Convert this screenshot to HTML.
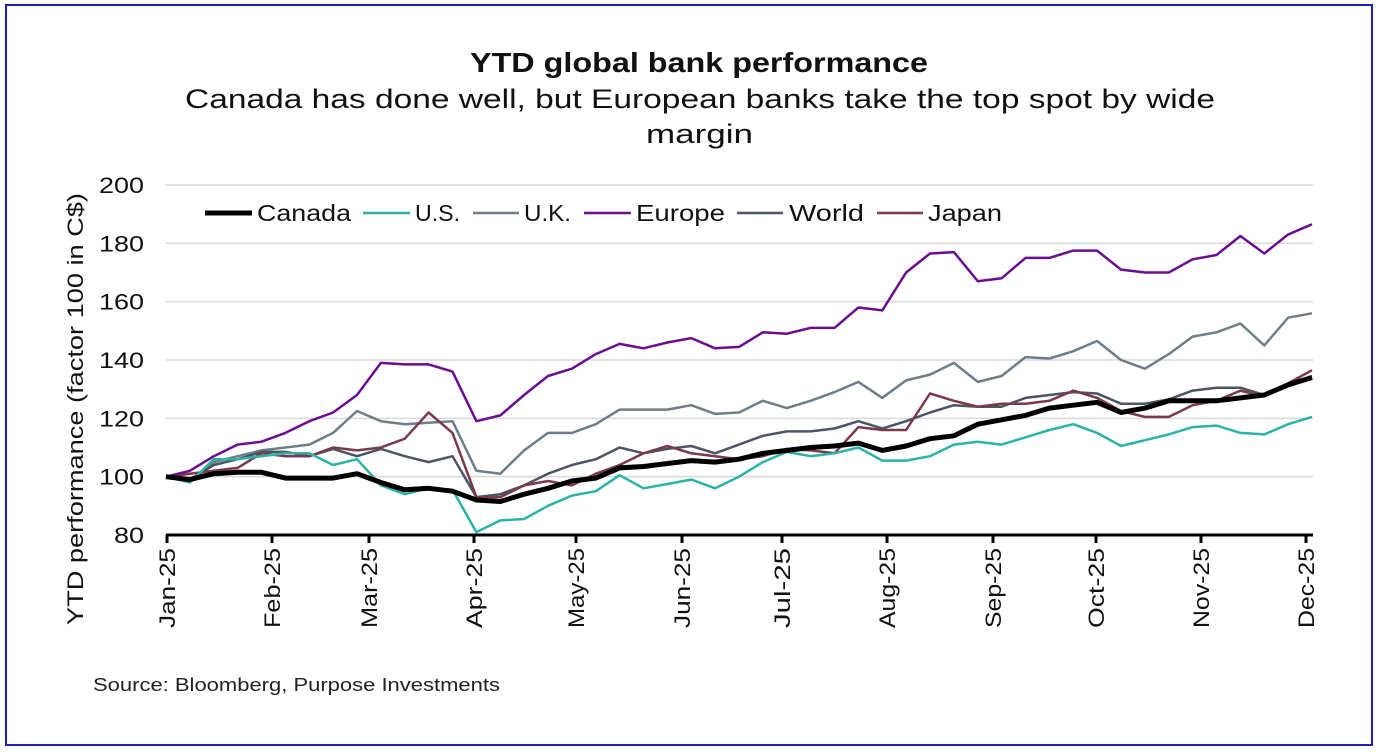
<!DOCTYPE html>
<html><head><meta charset="utf-8"><style>
body{margin:0;background:#fff;}
svg{display:block;font-family:"Liberation Sans",sans-serif;}
</style></head><body>
<svg id="c" width="1378" height="752" viewBox="0 0 1378 752">
<rect x="0" y="0" width="1378" height="752" fill="#fff"/>
<rect x="6" y="5" width="1366" height="740" fill="none" stroke="#1f1fb8" stroke-width="2"/>
<text x="470" y="72" textLength="458" lengthAdjust="spacingAndGlyphs" font-size="28" font-weight="bold" fill="#111">YTD global bank performance</text>
<text x="185" y="108" textLength="1030" lengthAdjust="spacingAndGlyphs" font-size="27" fill="#111">Canada has done well, but European banks take the top spot by wide</text>
<text x="646" y="143" textLength="107" lengthAdjust="spacingAndGlyphs" font-size="27" fill="#111">margin</text>
<g id="grid" stroke="#d9d9d9" stroke-width="1.5"></g>
<g id="ylab" font-size="22" fill="#111" text-anchor="end"></g>
<text transform="translate(83,625) rotate(-90)" textLength="432" lengthAdjust="spacingAndGlyphs" font-size="22" fill="#111">YTD performance (factor 100 in C$)</text>
<g id="series" fill="none" stroke-linejoin="round"></g>
<line x1="166" y1="535" x2="1313" y2="535" stroke="#000" stroke-width="3"/>
<g id="xt" font-size="22" fill="#111"></g>
<g font-size="23" fill="#111">
<line x1="205" y1="213" x2="252" y2="213" stroke="#000" stroke-width="5"/><text x="257" y="221" textLength="94" lengthAdjust="spacingAndGlyphs">Canada</text>
<line x1="363" y1="213" x2="410" y2="213" stroke="#2ab3a6" stroke-width="2.5"/><text x="415" y="221" textLength="45" lengthAdjust="spacingAndGlyphs">U.S.</text>
<line x1="473" y1="213" x2="519" y2="213" stroke="#6e7e88" stroke-width="2.5"/><text x="524" y="221" textLength="47" lengthAdjust="spacingAndGlyphs">U.K.</text>
<line x1="584" y1="213" x2="631" y2="213" stroke="#6a0d91" stroke-width="2.5"/><text x="636" y="221" textLength="89" lengthAdjust="spacingAndGlyphs">Europe</text>
<line x1="737" y1="213" x2="783" y2="213" stroke="#4a5566" stroke-width="2.5"/><text x="789" y="221" textLength="75" lengthAdjust="spacingAndGlyphs">World</text>
<line x1="877" y1="213" x2="923" y2="213" stroke="#7b3a4c" stroke-width="2.5"/><text x="928" y="221" textLength="74" lengthAdjust="spacingAndGlyphs">Japan</text>
</g>
<text x="93" y="691" textLength="407" lengthAdjust="spacingAndGlyphs" font-size="18" fill="#222">Source: Bloomberg, Purpose Investments</text>
</svg>
<script>
var NS="http://www.w3.org/2000/svg";
function Y(v){return 535-(v-80)*2.917;}
var g=document.getElementById('grid'),yl=document.getElementById('ylab');
for(var v=80;v<=200;v+=20){
 if(v>80){var l=document.createElementNS(NS,'line');l.setAttribute('x1',166);l.setAttribute('x2',1313);l.setAttribute('y1',Y(v));l.setAttribute('y2',Y(v));g.appendChild(l);}
 var t=document.createElementNS(NS,'text');t.setAttribute('x',144);t.setAttribute('y',Y(v)+8);t.setAttribute('textLength',v>=100?45:30);t.setAttribute('lengthAdjust','spacingAndGlyphs');t.textContent=v;yl.appendChild(t);
}
var months=["Jan-25","Feb-25","Mar-25","Apr-25","May-25","Jun-25","Jul-25","Aug-25","Sep-25","Oct-25","Nov-25","Dec-25"];
var tx=[167,272,369,474,576,682,782,887,993,1096,1201,1306];
var xt=document.getElementById('xt');
months.forEach(function(m,i){
 var l=document.createElementNS(NS,'line');l.setAttribute('x1',tx[i]);l.setAttribute('x2',tx[i]);l.setAttribute('y1',535);l.setAttribute('y2',543);l.setAttribute('stroke','#000');l.setAttribute('stroke-width',3);xt.appendChild(l);
 var t=document.createElementNS(NS,'text');t.setAttribute('transform','translate('+(tx[i]+8)+',548) rotate(-90)');t.setAttribute('text-anchor','end');t.setAttribute('textLength',80);t.setAttribute('lengthAdjust','spacingAndGlyphs');t.textContent=m;xt.appendChild(t);
});
var S=[
["#6e7e88",2.5,[100,98.5,105,107,109,110,111,115,122.5,119,118,118.5,119,102,101,109,115,115,118,123,123,123,124.5,121.5,122,126,123.5,126,129,132.5,127,133,135,139,132.5,134.5,141,140.5,143,146.5,140,137,142,148,149.5,152.5,145,154.5,156]],
["#4a5566",2.5,[100,99,104,106,108.5,108.5,107,109.5,107,109.5,107,105,107,93,94,97,101,104,106,110,108,109.5,110.5,108,111,114,115.5,115.5,116.5,119,116.5,119,122,124.5,124,124,127,128,129,128.5,125,125,126.5,129.5,130.5,130.5,128,131.5,134.5]],
["#7b3a4c",2.5,[100,101,102,103,108,107,107,110,109,110,113,122,115,93,93,97,98.5,97,101,104,108,110.5,108,107,106,107,109.5,109,108,117,116,116,128.5,126,124,125,125,126,129.5,127,122.5,120.5,120.5,124.5,126,129.5,127.5,132,136.5]],
["#2ab3a6",2.5,[100,98,106,106,107,108,108,104,106,97,94,96,95.5,81,85,85.5,90,93.5,95,100.5,96,97.5,99,96,100,105,108.5,107,108,110,105.5,105.5,107,111,112,111,113.5,116,118,115,110.5,112.5,114.5,117,117.5,115,114.5,118,120.5]],
["#6a0d91",2.5,[100,102,107,111,112,115,119,122,128,139,138.5,138.5,136,119,121,128,134.5,137,142,145.5,144,146,147.5,144,144.5,149.5,149,151,151,158,157,170,176.5,177,167,168,175,175,177.5,177.5,171,170,170,174.5,176,182.5,176.5,183,186.5]],
["#000",5,[100,99,101,101.5,101.5,99.5,99.5,99.5,101,98,95.5,96,95,92,91.5,94,96,98.5,99.5,103,103.5,104.5,105.5,105,106,108,109,110,110.5,111.5,109,110.5,113,114,118,119.5,121,123.5,124.5,125.5,122,123.5,126,126,126,127,128,131.5,134]]
];
var sg=document.getElementById('series');
S.forEach(function(s){
 var d=s[2],n=d.length,step=(1312-166)/(n-1),p="";
 d.forEach(function(v,i){p+=(i?"L":"M")+(166+i*step).toFixed(1)+","+Y(v).toFixed(1);});
 var e=document.createElementNS(NS,'path');e.setAttribute('d',p);e.setAttribute('stroke',s[0]);e.setAttribute('stroke-width',s[1]);sg.appendChild(e);
});
</script>
</body></html>
